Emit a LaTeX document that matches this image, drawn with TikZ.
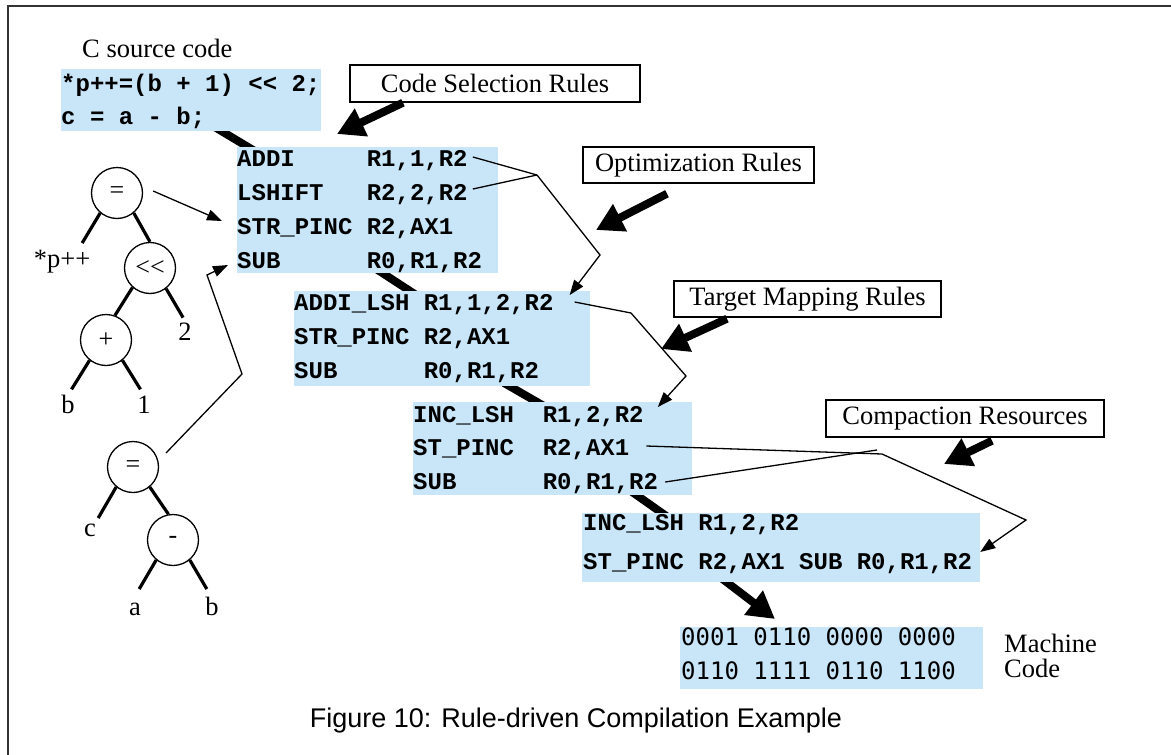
\documentclass[tikz,border=0pt]{standalone}
\usepackage{fontspec}
\setmainfont{Liberation Serif}
\newfontfamily\codefont{Liberation Mono}
\newfontfamily\hexfont{DejaVu Sans Mono}
\newfontfamily\capfont{Liberation Sans}
\usetikzlibrary{arrows.meta,backgrounds}
\definecolor{codeblue}{RGB}{201,229,248}
\tikzset{
  codebg/.style={fill=codeblue, draw=none, inner sep=0pt, anchor=north west},
  codeline/.style={font=\codefont\bfseries\fontsize{24}{24}\selectfont,
    inner sep=0pt, anchor=west, text height=16pt, text depth=0pt},
  hexline/.style={font=\hexfont\fontsize{24}{24}\selectfont,
    inner sep=0pt, anchor=west, text height=17pt, text depth=0pt},
  rulebox/.style={draw, line width=1.4pt, inner sep=0pt,
    font=\fontsize{26.5}{28}\selectfont},
  serif/.style={font=\fontsize{26.5}{28}\selectfont, inner sep=0pt},
  flowlink/.style={line width=8pt, shorten <=-7pt, shorten >=-7pt},
  bigarrow/.style={line width=8pt, -{Triangle[width=29pt,length=27pt]}},
  thinarrow/.style={line width=1.3pt, -{Triangle[width=11pt,length=15pt]}},
  thinline/.style={line width=1.3pt},
  opnode/.style={circle, draw, line width=1.3pt, minimum size=51pt,
    inner sep=0pt, font=\fontsize{26}{26}\selectfont},
  treeedge/.style={line width=3.2pt},
  leaf/.style={font=\fontsize{26.5}{28}\selectfont, inner sep=0pt, anchor=base},
}
\begin{document}
\begin{tikzpicture}[x=1pt,y=-1pt]
\useasboundingbox (0,0) rectangle (1171,755);

% page frame (top and left rules)
\draw[line width=2.4pt, black!80] (8,755) -- (8,6) -- (1171,6);

% ---------- C source ----------
\node[serif, anchor=base west] (srclabel) at (82,57) {C source code};
\node[codebg, minimum width=260pt, minimum height=62pt] (box1) at (61,69) {};
\node[codeline] (b1a) at (61,83) {*p++=(b + 1) << 2;};
\node[codeline] (b1b) at (61,116) {c = a - b;};

% ---------- after code selection ----------
\node[codebg, minimum width=261pt, minimum height=126pt] (box2) at (237,147) {};
\node[codeline] (b2a) at (237,158) {ADDI~~~~~R1,1,R2};
\node[codeline] (b2b) at (237,192) {LSHIFT~~~R2,2,R2};
\node[codeline] (b2c) at (237,226) {STR\_PINC R2,AX1};
\node[codeline] (b2d) at (237,260) {SUB~~~~~~R0,R1,R2};

% ---------- after optimization ----------
\node[codebg, minimum width=296pt, minimum height=95pt] (box3) at (294,291) {};
\node[codeline] (b3a) at (294,302) {ADDI\_LSH R1,1,2,R2};
\node[codeline] (b3b) at (294,336) {STR\_PINC R2,AX1};
\node[codeline] (b3c) at (294,370) {SUB~~~~~~R0,R1,R2};

% ---------- after target mapping ----------
\node[codebg, minimum width=279pt, minimum height=93pt] (box4) at (413,402) {};
\node[codeline] (b4a) at (413,414) {INC\_LSH~~R1,2,R2};
\node[codeline] (b4b) at (413,447) {ST\_PINC~~R2,AX1};
\node[codeline] (b4c) at (413,481) {SUB~~~~~~R0,R1,R2};

% ---------- after compaction ----------
\node[codebg, minimum width=398pt, minimum height=69pt] (box5) at (582,513) {};
\node[codeline] (b5a) at (583,522) {INC\_LSH R1,2,R2};
\node[codeline] (b5b) at (583,561) {ST\_PINC R2,AX1 SUB R0,R1,R2};

% ---------- machine code ----------
\node[codebg, minimum width=303pt, minimum height=62pt] (box6) at (680,627) {};
\node[hexline] (b6a) at (681,637) {0001 0110 0000 0000};
\node[hexline] (b6b) at (681,671) {0110 1111 0110 1100};
\node[serif, anchor=base west] (mc1) at (1004,652) {Machine};
\node[serif, anchor=base west] (mc2) at (1004,677) {Code};

% ---------- rule sets ----------
\node[rulebox, minimum width=290pt, minimum height=37pt] (csr) at (495,83.5) {Code Selection Rules};
\node[rulebox, minimum width=231pt, minimum height=36pt] (opt) at (698.5,165) {Optimization Rules};
\node[rulebox, minimum width=267pt, minimum height=36pt] (tmr) at (807.5,299) {Target Mapping Rules};
\node[rulebox, minimum width=278pt, minimum height=37pt] (cmp) at (965,418.5) {Compaction Resources};

\coordinate (optTip) at (596,230);
\coordinate (tmrTip) at (661,349);
\coordinate (cmpTip) at (944,464);

\draw[bigarrow] ([xshift=-92pt]csr.south) -- ([xshift=100pt,yshift=13pt]box2.north west);
\draw[bigarrow] ([xshift=-31.5pt,yshift=-10pt]opt.south) -- (optTip);
\draw[bigarrow] ([xshift=-80.5pt,yshift=-1pt]tmr.south) -- (tmrTip);
\draw[bigarrow] ([xshift=27pt,yshift=-3pt]cmp.south) -- (cmpTip);

% ---------- flow between code stages ----------
\begin{scope}[on background layer]
  \draw[flowlink] ([xshift=161pt]box1.south west) -- ([xshift=11pt]box2.north west);
  \draw[flowlink] ([xshift=146pt]box2.south west) -- ([xshift=116pt]box3.north west);
  \draw[flowlink] ([xshift=216pt]box3.south west) -- ([xshift=124pt]box4.north west);
  \draw[flowlink] ([xshift=224pt]box4.south west) -- ([xshift=80pt]box5.north west);
  \draw[bigarrow, shorten <=-10pt] ([xshift=145pt]box5.south west) -- ([xshift=95pt,yshift=8pt]box6.north west);
\end{scope}

% ---------- rule application traces ----------
\coordinate (j1) at (537,175);
\coordinate (j2) at (600,255);
\draw[thinline] ([xshift=5pt,yshift=1pt]b2a.east) -- (j1);
\draw[thinline] ([xshift=5pt,yshift=3pt]b2b.east) -- (j1);
\draw[thinarrow] (j1) -- (j2) -- ([xshift=16pt,yshift=7pt]b3a.east);

\coordinate (j3) at (631,313);
\coordinate (j4) at (686,376);
\draw[thinarrow] ([xshift=21pt]b3a.east) -- (j3) -- (j4) -- ([xshift=14pt,yshift=7pt]b4a.east);

\coordinate (j5) at (882,454);
\coordinate (j6) at (1026,520);
\coordinate (j7) at (877,450);
\draw[thinarrow] ([xshift=17pt,yshift=1pt]b4b.east) -- (j5) -- (j6) -- ([xshift=8pt,yshift=9pt]b5b.east);
\draw[thinline] ([xshift=7pt,yshift=-1pt]b4c.east) -- (j7);

% ---------- expression trees ----------
\node[opnode] (eq1) at (117,193) {=};
\node[opnode] (shl) at (150,268) {<\kern0pt<};
\node[opnode] (plus) at (106,340) {+};
\node[opnode] (eq2) at (133,467) {=};
\node[opnode] (minus) at (173,540) {-};

\node[leaf] (lp) at (62,267) {*p++};
\node[leaf] (l2) at (185,340) {2};
\node[leaf] (lb1) at (68,413) {b};
\node[leaf] (l1) at (144,413) {1};
\node[leaf] (lc) at (90,536) {c};
\node[leaf] (la) at (135,615) {a};
\node[leaf] (lb2) at (212,615) {b};

\draw[treeedge] (eq1.230) -- ++(-18,30);
\draw[treeedge] (eq1.310) -- (shl.north);
\draw[treeedge] (shl.228) -- (plus.70);
\draw[treeedge] (shl.308) -- ++(17,29);
\draw[treeedge] (plus.231) -- ++(-18,29);
\draw[treeedge] (plus.309) -- ++(18,29);
\draw[treeedge] (eq2.230) -- ++(-18,31);
\draw[treeedge] (eq2.310) -- (minus.100);
\draw[treeedge] (minus.230) -- ++(-17,29);
\draw[treeedge] (minus.310) -- ++(17,29);

\coordinate (j8) at (242,374);
\coordinate (j9) at (207,275);
\draw[thinarrow] ([xshift=10pt,yshift=2pt]eq1.east) -- ([xshift=-15pt,yshift=5pt]b2c.west);
\draw[thinarrow] ([shift={(33pt,14pt)}]eq2.center) -- (j8) -- (j9) -- ([xshift=-9pt,yshift=-5pt]b2d.west);

% ---------- caption ----------
\node[font=\capfont\fontsize{27}{27}\selectfont, inner sep=0pt, anchor=base] (cap) at (576,727)
  {Figure 10: Rule-driven Compilation Example};
\end{tikzpicture}
\end{document}
